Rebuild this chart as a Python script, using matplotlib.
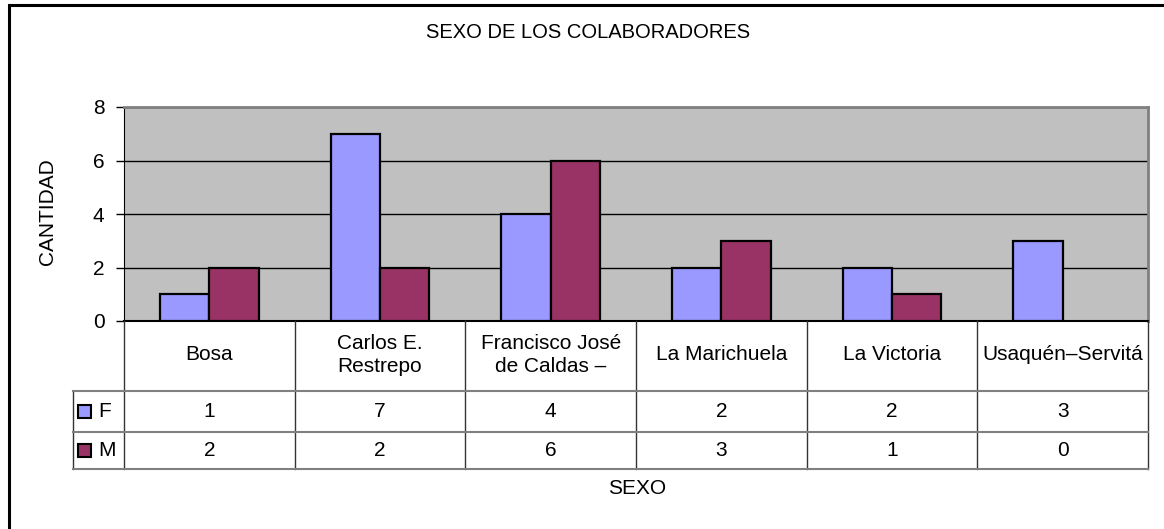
import matplotlib.pyplot as plt
from matplotlib.patches import Rectangle

# datos del grafico
sedes = ['Bosa', 'Carlos E.\nRestrepo', 'Francisco José\nde Caldas –',
         'La Marichuela', 'La Victoria', 'Usaquén–Servitá']
femenino = [1, 7, 4, 2, 2, 3]
masculino = [2, 2, 6, 3, 1, 0]
series = ['F', 'M']
colores = ['#9999FF', '#993366']
y_ticks = [0, 2, 4, 6, 8]

plt.rcParams['font.family'] = ['Liberation Sans', 'DejaVu Sans']
W, H = 1164, 529
fig = plt.figure(figsize=(W / 100, H / 100), dpi=100)

# marco exterior
fig.patches.append(Rectangle((8.5 / W, -0.1), 1.2, 1 - 5.5 / H + 0.1,
                             transform=fig.transFigure, fill=False,
                             edgecolor='black', linewidth=2.2))

# area del grafico
x0, x1, y0, y1 = 124, 1148, 107, 321
ax = fig.add_axes([x0 / W, 1 - y1 / H, (x1 - x0) / W, (y1 - y0) / H])
ax.set_facecolor('#C0C0C0')
n = len(sedes)
pos = list(range(n))
ancho = 0.29
# sin borde para barras de valor cero
ax.bar([p - ancho / 2 for p in pos], femenino, ancho, color=colores[0],
       edgecolor='black', linewidth=[1.6 if v else 0 for v in femenino], zorder=3)
ax.bar([p + ancho / 2 for p in pos], masculino, ancho, color=colores[1],
       edgecolor='black', linewidth=[1.6 if v else 0 for v in masculino], zorder=3)
ax.set_xlim(-0.5, n - 0.5)
ax.set_ylim(0, 8)
ax.set_yticks(y_ticks)
ax.yaxis.grid(True, color='black', linewidth=1)
ax.set_axisbelow(True)
ax.set_xticks([])
ax.tick_params(axis='y', labelsize=15, length=6, pad=8, width=1)
for s in ['top', 'right']:
    ax.spines[s].set_color('#808080')
    ax.spines[s].set_linewidth(2)
ax.spines['left'].set_color('black')
ax.spines['bottom'].set_color('black')
ax.spines['bottom'].set_linewidth(1.5)

# tabla de datos debajo
t_top, t_bot = 321, 469
filas = [321, 391, 432, 469]
tx = fig.add_axes([x0 / W, 1 - t_bot / H, (x1 - x0) / W, (t_bot - t_top) / H])
tx.set_xlim(-0.5, n - 0.5)
tx.set_ylim(t_bot, t_top)
tx.axis('off')
celda = (x1 - x0) / n
izq = -0.5 - (x0 - 73) / celda
for k in range(n + 1):
    tx.plot([k - 0.5, k - 0.5], [t_top, t_bot], color='#333333', lw=1, clip_on=False)
tx.plot([izq, izq], [filas[1], t_bot], color='#333333', lw=1, clip_on=False)
for yy in filas[1:]:
    tx.plot([izq, n - 0.5], [yy, yy], color='#808080', lw=1.5, clip_on=False)
for i, s in enumerate(sedes):
    tx.text(i, (filas[0] + filas[1]) / 2 - 1, s, ha='center', va='center',
            fontsize=15, linespacing=1.3)
for r, valores in enumerate([femenino, masculino]):
    yc = (filas[r + 1] + filas[r + 2]) / 2
    for i, v in enumerate(valores):
        tx.text(i, yc, str(v), ha='center', va='center', fontsize=15)
    tx.add_patch(Rectangle((izq + 5 / celda, yc - 6.5), 13 / celda, 13,
                           facecolor=colores[r], edgecolor='black', lw=1.5,
                           clip_on=False))
    tx.text(izq + 25 / celda, yc, series[r], ha='left', va='center',
            fontsize=15)

# titulos
fig.text(588 / W, 1 - 33 / H, 'SEXO DE LOS COLABORADORES', ha='center',
         va='center', fontsize=14.5)
fig.text(48 / W, 1 - 212 / H, 'CANTIDAD', ha='center', va='center',
         rotation=90, fontsize=15)
fig.text(637 / W, 1 - 488 / H, 'SEXO', ha='center', va='center', fontsize=15)

fig.savefig('out.png', dpi=100)
